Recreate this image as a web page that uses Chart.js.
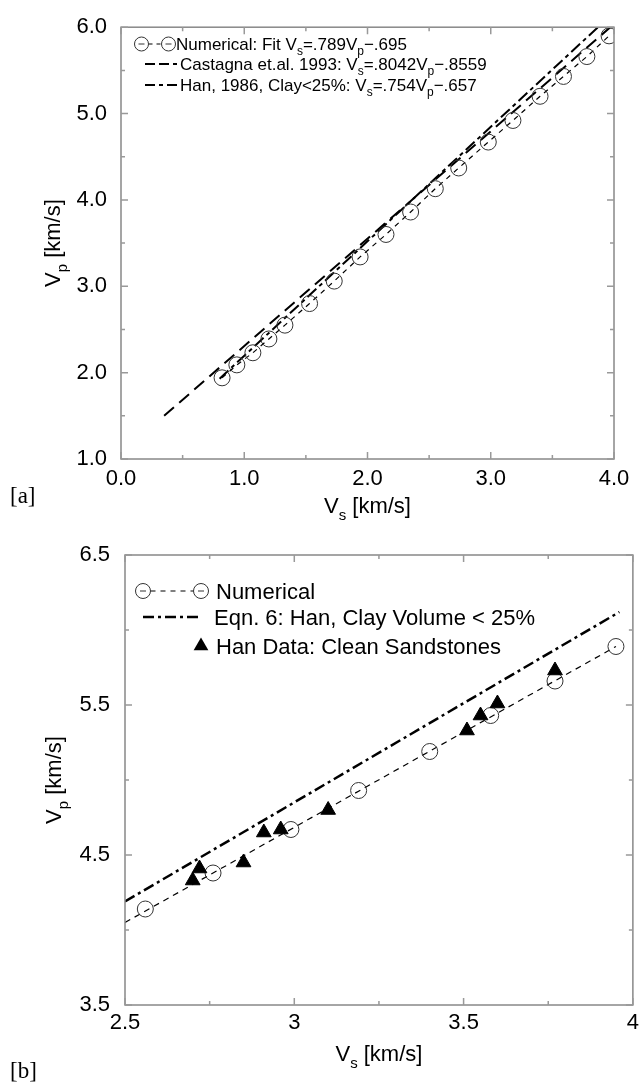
<!DOCTYPE html>
<html>
<head>
<meta charset="utf-8">
<script src="https://cdn.jsdelivr.net/npm/chart.js@4.4.1/dist/chart.umd.min.js"></script>
<style>
body { margin: 0; background: #fff; width: 644px; height: 1087px; position: relative; overflow: hidden; }
canvas { position: absolute; left: 0; }
#chartA { top: 0; }
#chartB { top: 520px; }
.tag { position: absolute; left: 10px; font-family: "Liberation Serif", "DejaVu Serif", serif; font-size: 23px; color: #000; }
</style>
</head>
<body>
<canvas id="chartA" width="644" height="520"></canvas>
<canvas id="chartB" width="644" height="567"></canvas>
<div class="tag" style="top:483px">[a]</div>
<div class="tag" style="top:1058px">[b]</div>
<script>
//Panel a: numerical model (circles), and the two published trends
const numVsA = [0.82, 0.94, 1.07, 1.20, 1.33, 1.53, 1.73, 1.94, 2.15, 2.35, 2.55, 2.74, 2.98, 3.18, 3.40, 3.59, 3.78, 3.96];
const numVpA = [1.94, 2.09, 2.23, 2.39, 2.55, 2.80, 3.06, 3.34, 3.60, 3.86, 4.13, 4.37, 4.67, 4.92, 5.20, 5.43, 5.66, 5.90];
const castVsA = [0.35, 3.97]; //Castagna et.al. 1993
const castVpA = [1.50, 6.00];
const hanVsA = [0.80, 3.87];  //Han 1986, clay < 25%
const hanVpA = [1.93, 6.00];

//Panel b: zoom on the high velocity end
const numVsB = [2.56, 2.76, 2.99, 3.19, 3.40, 3.58, 3.77, 3.95];
const numVpB = [4.14, 4.38, 4.67, 4.93, 5.19, 5.43, 5.66, 5.89];
const numLineVsB = [2.50, 3.95];
const numLineVpB = [4.05, 5.89];
const hanVsB = [2.50, 3.96];
const hanVpB = [4.19, 6.12];
const sandVs = [2.70, 2.72, 2.85, 2.91, 2.96, 3.10, 3.51, 3.55, 3.60, 3.77];
const sandVp = [4.33, 4.41, 4.45, 4.65, 4.67, 4.80, 5.33, 5.43, 5.51, 5.73];

//Tick values
const xTicksA = [0, 1, 2, 3, 4];
const xMinorA = [0.5, 1.5, 2.5, 3.5];
const yTicksA = [1, 2, 3, 4, 5, 6];
const yMinorA = [1.5, 2.5, 3.5, 4.5, 5.5];
const xTicksB = [2.5, 3, 3.5, 4];
const xMinorB = [2.75, 3.25, 3.75];
const yTicksB = [3.5, 4.5, 5.5, 6.5];
const yMinorB = [4, 5, 6];

const fam = '"Liberation Sans", Arial, Helvetica, sans-serif';
const fontSize = 22;

const pts = (xs, ys) => xs.map((v, i) => ({x: v, y: ys[i]}));

//text with subscripts: parts = [[text, isSub], ...]
function drawParts(ctx, parts, x, y, size, center) {
    let w = 0;
    parts.forEach(p => {
        ctx.font = (p[1] ? Math.round(size * 0.68) : size) + 'px ' + fam;
        w += ctx.measureText(p[0]).width;
    });
    let cx = center ? x - w / 2 : x;
    parts.forEach(p => {
        ctx.font = (p[1] ? Math.round(size * 0.68) : size) + 'px ' + fam;
        ctx.fillText(p[0], cx, p[1] ? y + size * 0.3 : y);
        cx += ctx.measureText(p[0]).width;
    });
}

function circle(ctx, x, y, r) {
    ctx.beginPath();
    ctx.arc(x, y, r, 0, Math.PI * 2);
    ctx.stroke();
}

//Box, inward ticks, axis titles and the legend
function makeFrame(cfg) {
    return {
        id: 'frame',
        afterDatasetsDraw(chart) {
            const ctx = chart.ctx, a = chart.chartArea;
            const sx = chart.scales.x, sy = chart.scales.y;
            ctx.save();
            ctx.strokeStyle = '#888';
            ctx.lineWidth = 1.5;
            ctx.strokeRect(a.left, a.top, a.right - a.left, a.bottom - a.top);
            ctx.strokeStyle = '#999';
            const tx = (vals, len) => vals.forEach(v => {
                const p = sx.getPixelForValue(v);
                ctx.beginPath();
                ctx.moveTo(p, a.bottom); ctx.lineTo(p, a.bottom - len);
                ctx.moveTo(p, a.top); ctx.lineTo(p, a.top + len);
                ctx.stroke();
            });
            const ty = (vals, len) => vals.forEach(v => {
                const p = sy.getPixelForValue(v);
                ctx.beginPath();
                ctx.moveTo(a.left, p); ctx.lineTo(a.left + len, p);
                ctx.moveTo(a.right, p); ctx.lineTo(a.right - len, p);
                ctx.stroke();
            });
            tx(cfg.xMajor, 7); tx(cfg.xMinor, 4);
            ty(cfg.yMajor, 7); ty(cfg.yMinor, 4);

            //axis titles
            ctx.fillStyle = '#000';
            ctx.textBaseline = 'alphabetic';
            drawParts(ctx, [['V', 0], ['s', 1], [' [km/s]', 0]], (a.left + a.right) / 2, cfg.xTitleY, fontSize, true);
            ctx.save();
            ctx.translate(cfg.yTitleX, (a.top + a.bottom) / 2);
            ctx.rotate(-Math.PI / 2);
            drawParts(ctx, [['V', 0], ['p', 1], [' [km/s]', 0]], 0, 0, fontSize, true);
            ctx.restore();

            //legend
            cfg.legend.forEach(row => {
                ctx.strokeStyle = '#000';
                ctx.fillStyle = '#000';
                if (row.kind == 'circles') {
                    ctx.lineWidth = 1.2;
                    ctx.setLineDash(row.dash);
                    ctx.beginPath();
                    ctx.moveTo(row.x1 + row.r, row.y); ctx.lineTo(row.x2 - row.r, row.y);
                    ctx.stroke();
                    ctx.setLineDash([]);
                    ctx.lineWidth = 1;
                    ctx.strokeStyle = '#333';
                    circle(ctx, row.x1, row.y, row.r);
                    circle(ctx, row.x2, row.y, row.r);
                    ctx.beginPath();
                    ctx.moveTo(row.x1 - 3, row.y); ctx.lineTo(row.x1 + 3, row.y);
                    ctx.moveTo(row.x2 - 3, row.y); ctx.lineTo(row.x2 + 3, row.y);
                    ctx.stroke();
                } else if (row.kind == 'line') {
                    ctx.lineWidth = row.lw;
                    ctx.setLineDash(row.dash);
                    ctx.beginPath();
                    ctx.moveTo(row.x1, row.y); ctx.lineTo(row.x2, row.y);
                    ctx.stroke();
                    ctx.setLineDash([]);
                } else {
                    const r = row.r;
                    ctx.beginPath();
                    ctx.moveTo(row.x2, row.y - r);
                    ctx.lineTo(row.x2 + r * 0.866, row.y + r / 2);
                    ctx.lineTo(row.x2 - r * 0.866, row.y + r / 2);
                    ctx.closePath();
                    ctx.fill();
                }
                ctx.fillStyle = '#000';
                drawParts(ctx, row.text, row.tx, row.y + cfg.legendSize * 0.36, cfg.legendSize, false);
            });
            ctx.restore();
        }
    };
}

function scaleOpts(min, max, ticks, fmt, fit, pad) {
    return {
        type: 'linear',
        min: min,
        max: max,
        afterBuildTicks: s => { s.ticks = ticks.map(v => ({value: v})); },
        afterFit: fit,
        grid: { display: false, drawTicks: false },
        border: { display: false },
        ticks: { color: '#000', font: { family: fam, size: fontSize }, padding: pad, autoSkip: false, maxRotation: 0, callback: fmt }
    };
}

//Panel a
new Chart(document.getElementById('chartA'), {
    type: 'scatter',
    data: {
        datasets: [{
            label: 'Numerical',
            data: pts(numVsA, numVpA),
            showLine: true,
            borderColor: '#000',
            borderWidth: 1.2,
            borderDash: [5, 5],
            pointRadius: 8,
            pointBorderColor: '#333',
            pointBorderWidth: 1,
            pointBackgroundColor: 'rgba(0,0,0,0)'
        }, {
            label: 'Castagna',
            data: pts(castVsA, castVpA),
            showLine: true,
            borderColor: '#000',
            borderWidth: 2,
            borderDash: [13, 7],
            pointRadius: 0
        }, {
            label: 'Han',
            data: pts(hanVsA, hanVpA),
            showLine: true,
            borderColor: '#000',
            borderWidth: 2,
            borderDash: [12, 4, 4, 4],
            pointRadius: 0
        }]
    },
    options: {
        responsive: false,
        animation: false,
        layout: { padding: { top: 18, right: 30, left: 0, bottom: 0 } },
        plugins: { legend: { display: false }, tooltip: { enabled: false } },
        scales: {
            x: scaleOpts(0, 4, xTicksA, v => v.toFixed(1), s => { s.height = 61; }, 7),
            y: scaleOpts(1, 6, yTicksA, v => v.toFixed(1), s => { s.width = 121; }, 14)
        }
    },
    plugins: [makeFrame({
        xMajor: xTicksA, xMinor: xMinorA, yMajor: yTicksA, yMinor: yMinorA,
        xTitleY: 513, yTitleX: 60, legendSize: 17,
        legend: [
            { kind: 'circles', x1: 141.5, x2: 168.5, r: 7, y: 44, dash: [4, 4], tx: 176,
              text: [['Numerical: Fit V', 0], ['s', 1], ['=.789V', 0], ['p', 1], ['\u2212.695', 0]] },
            { kind: 'line', x1: 145, x2: 177, lw: 2, y: 64, dash: [10, 4], tx: 180,
              text: [['Castagna et.al. 1993: V', 0], ['s', 1], ['=.8042V', 0], ['p', 1], ['\u2212.8559', 0]] },
            { kind: 'line', x1: 145, x2: 177, lw: 2, y: 85, dash: [10, 4, 4, 4], tx: 180,
              text: [['Han, 1986, Clay<25%: V', 0], ['s', 1], ['=.754V', 0], ['p', 1], ['\u2212.657', 0]] }
        ]
    })]
});

//Panel b
new Chart(document.getElementById('chartB'), {
    type: 'scatter',
    data: {
        datasets: [{
            label: 'Han Data: Clean Sandstones',
            data: pts(sandVs, sandVp),
            pointStyle: 'triangle',
            pointRadius: 8.5,
            pointBackgroundColor: '#000',
            pointBorderColor: '#000',
            pointBorderWidth: 1
        }, {
            label: 'Numerical',
            data: pts(numVsB, numVpB),
            pointRadius: 8,
            pointBorderColor: '#333',
            pointBorderWidth: 1,
            pointBackgroundColor: 'rgba(0,0,0,0)'
        }, {
            label: 'Numerical line',
            data: pts(numLineVsB, numLineVpB),
            showLine: true,
            borderColor: '#000',
            borderWidth: 1.2,
            borderDash: [6, 5],
            pointRadius: 0
        }, {
            label: 'Eqn. 6',
            data: pts(hanVsB, hanVpB),
            showLine: true,
            borderColor: '#000',
            borderWidth: 2.5,
            borderDash: [11, 4, 3, 4],
            pointRadius: 0
        }]
    },
    options: {
        responsive: false,
        animation: false,
        layout: { padding: { top: 35, right: 7, left: 0, bottom: 0 } },
        plugins: { legend: { display: false }, tooltip: { enabled: false } },
        scales: {
            x: scaleOpts(2.5, 4, xTicksB, v => String(v), s => { s.height = 82; }, 5),
            y: scaleOpts(3.5, 6.5, yTicksB, v => v.toFixed(1), s => { s.width = 125; }, 15)
        }
    },
    plugins: [makeFrame({
        xMajor: xTicksB, xMinor: xMinorB, yMajor: yTicksB, yMinor: yMinorB,
        xTitleY: 541, yTitleX: 61, legendSize: 22,
        legend: [
            { kind: 'circles', x1: 143, x2: 201, r: 7.5, y: 71, dash: [5, 5], tx: 216,
              text: [['Numerical', 0]] },
            { kind: 'line', x1: 143, x2: 200, lw: 2.5, y: 97, dash: [11, 4, 3, 4], tx: 214,
              text: [['Eqn. 6: Han, Clay Volume < 25%', 0]] },
            { kind: 'triangle', x2: 201, r: 8.5, y: 126, tx: 216,
              text: [['Han Data: Clean Sandstones', 0]] }
        ]
    })]
});
</script>
</body>
</html>
